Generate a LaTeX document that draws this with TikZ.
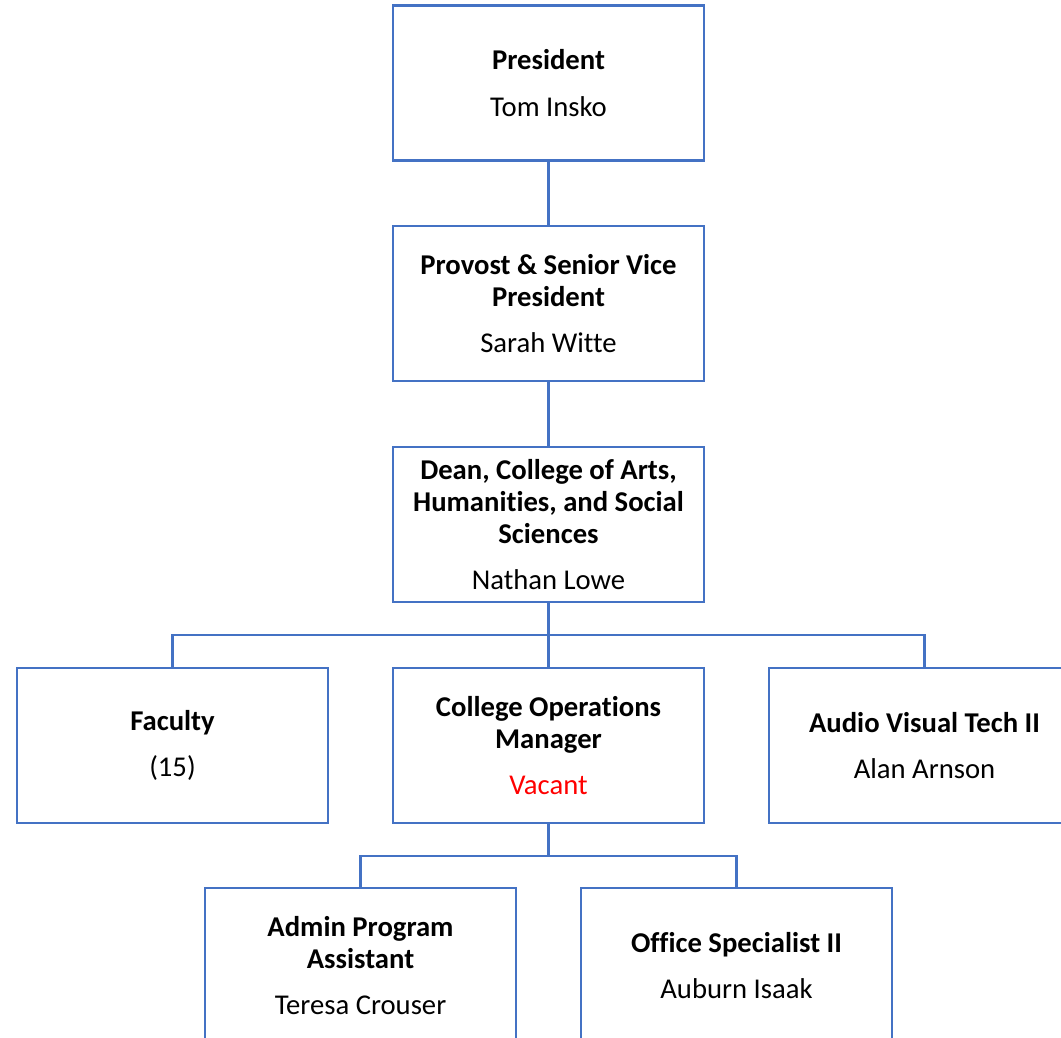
\documentclass[tikz,border=0pt]{standalone}
\usepackage{fontspec}
\setmainfont[Ligatures=NoCommon]{Carlito}
\definecolor{boxblue}{HTML}{4472C4}
\definecolor{vacred}{HTML}{FF0000}
\begin{document}
\begin{tikzpicture}[x=0.75pt,y=-0.75pt,
  orgbox/.style={draw=boxblue,line width=1.7pt,rectangle,minimum width=233.25pt,minimum height=116.25pt,inner sep=0pt,align=center,font=\fontsize{21.5}{24}\selectfont},
  link/.style={draw=boxblue,line width=1.7pt}]
\useasboundingbox (0,0) rectangle (1061,1038);
\clip (0,0) rectangle (1061,1038);
\node[orgbox] (pres) at (548.5,83) {\textbf{President}\\[11pt]Tom Insko};
\node[orgbox] (prov) at (548.5,303.5) {\textbf{Provost \& Senior Vice}\\\textbf{President}\\[11pt]Sarah Witte};
\node[orgbox] (dean) at (548.5,524.5) {\textbf{Dean, College of Arts,}\\\textbf{Humanities, and Social}\\\textbf{Sciences}\\[11pt]Nathan Lowe};
\node[orgbox] (fac) at (172.5,745.5) {\textbf{Faculty}\\[11pt](15)};
\node[orgbox] (ops) at (548.5,745.5) {\textbf{College Operations}\\\textbf{Manager}\\[11pt]\textcolor{vacred}{Vacant}};
\node[orgbox] (av) at (924.5,745.5) {\textbf{Audio Visual Tech II}\\[11pt]Alan Arnson};
\node[orgbox] (admin) at (360.5,965.5) {\textbf{Admin Program}\\\textbf{Assistant}\\[11pt]Teresa Crouser};
\node[orgbox] (office) at (736.5,965.5) {\textbf{Office Specialist II}\\[11pt]Auburn Isaak};
\draw[link] (pres.south) -- (prov.north);
\draw[link] (prov.south) -- (dean.north);
\draw[link] (dean.south) -- ++(0,32) coordinate (j1);
\draw[link] (j1) -| (fac.north);
\draw[link] (j1) -| (av.north);
\draw[link] (j1) -- (ops.north);
\draw[link] (ops.south) -- ++(0,32) coordinate (j2);
\draw[link] (j2) -| (admin.north);
\draw[link] (j2) -| (office.north);
\end{tikzpicture}
\end{document}
